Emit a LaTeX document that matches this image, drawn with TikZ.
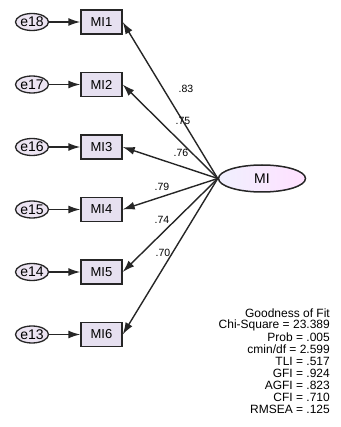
\documentclass[tikz,border=0pt]{standalone}
\usepackage{fontspec}
\setmainfont{Liberation Sans}
\usetikzlibrary{arrows.meta,shapes.geometric}
\definecolor{boxfill}{HTML}{E6E0F0}
\definecolor{errfill}{HTML}{ECE4F2}
\begin{document}
\begin{tikzpicture}[x=1pt,y=-1pt,
  obs/.style={draw=black!85,line width=1.4pt,fill=boxfill,minimum width=41pt,minimum height=24pt,inner sep=0pt,font=\fontsize{13}{13}\selectfont},
  err/.style={ellipse,draw=black!85,line width=1.3pt,fill=errfill,minimum width=33pt,minimum height=17pt,inner sep=0pt,font=\fontsize{14}{14}\selectfont},
  lat/.style={ellipse,draw=black!85,line width=1.5pt,left color=black!8!blue!6,right color=magenta!12,minimum width=87pt,minimum height=27pt,inner sep=0pt,font=\fontsize{14}{14}\selectfont},
  arr/.style={-{Latex[length=12pt,width=8pt]},line width=1.4pt,black!85},
  wt/.style={font=\fontsize{10.5}{10.5}\selectfont,inner sep=0pt},
  fit/.style={font=\fontsize{12}{12}\selectfont,inner sep=0pt,anchor=east}]
\useasboundingbox (0,0) rectangle (340,427);
\foreach \i/\e/\y in {1/18/22,2/17/84.5,3/16/147,4/15/209.5,5/14/272,6/13/334.5}{
  \node[obs] (m\i) at (101.5,\y) {MI\i};
  \node[err] (e\e) at (32,\y) {\makebox[0pt]{e\e}};
  \draw[arr] (e\e) -- (m\i);
}
\node[lat] (MI) at (262,178.5) {MI};
\foreach \i in {1,...,6}{
  \draw[arr] (MI.west) -- (m\i.east);
}
\node[wt] (w1) at (186,89) {.83};
\node[wt] (w2) at (183,121) {.75};
\node[wt] (w3) at (181,153) {.76};
\node[wt] (w4) at (162,187) {.79};
\node[wt] (w5) at (162,220) {.74};
\node[wt] (w6) at (163,253) {.70};
\node[fit] (g1) at (330,313) {Goodness of Fit};
\node[fit] (g2) at (330,325) {Chi-Square = 23.389};
\node[fit] (g3) at (330,337) {Prob = .005};
\node[fit] (g4) at (330,349) {cmin/df = 2.599};
\node[fit] (g5) at (330,361) {TLI = .517};
\node[fit] (g6) at (330,373) {GFI = .924};
\node[fit] (g7) at (330,385) {AGFI = .823};
\node[fit] (g8) at (330,397) {CFI = .710};
\node[fit] (g9) at (330,409) {RMSEA = .125};
\end{tikzpicture}
\end{document}
